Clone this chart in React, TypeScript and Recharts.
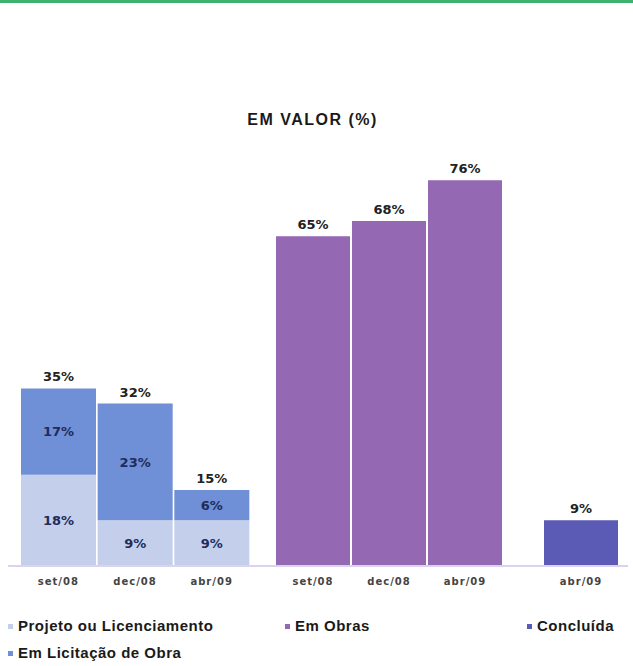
import { Bar, BarChart, LabelList, XAxis, YAxis } from "recharts";

const periods = ["set/08", "dec/08", "abr/09"];
const projeto = [18, 9, 9];
const licitacao = [17, 23, 6];
const emObras = [65, 68, 76];
const concluidaPeriods = ["abr/09"];
const concluida = [9];

const colors = {
  projeto: "#c4cfec",
  licitacao: "#6f8fd6",
  emObras: "#9568b4",
  concluida: "#5b5ab5",
};

const fase1 = periods.map((p, i) => ({
  periodo: p,
  projeto: projeto[i],
  licitacao: licitacao[i],
  total: projeto[i] + licitacao[i],
}));
const fase2 = periods.map((p, i) => ({ periodo: p, emObras: emObras[i] }));
const fase3 = concluidaPeriods.map((p, i) => ({ periodo: p, concluida: concluida[i] }));

const pct = (v: any) => `${v}%`;
const domain: [number, number] = [0, 80];
const chartHeight = 456;
const margin = { top: 20, right: 0, left: 0, bottom: 0 };
const tick = {
  fill: "#444",
  fontSize: 10,
  fontWeight: 700,
  fontFamily: "DejaVu Sans",
  letterSpacing: 1,
};
const axisLine = { stroke: "#d9d3ee", strokeWidth: 2 };
const topLabel = { fill: "#222", fontSize: 13, fontWeight: 700, fontFamily: "DejaVu Sans" };
const innerLabel = { fill: "#1f2c5c", fontSize: 13, fontWeight: 700, fontFamily: "DejaVu Sans" };

function LegendItem({ color, label }: { color: string; label: string }) {
  return (
    <div style={{ display: "flex", alignItems: "center", gap: 5 }}>
      <span style={{ width: 5, height: 5, background: color, display: "inline-block" }} />
      <span>{label}</span>
    </div>
  );
}

export default function App() {
  return (
    <div
      style={{
        position: "absolute",
        left: 0,
        top: 0,
        width: 633,
        height: 666,
        background: "#fff",
        overflow: "hidden",
      }}
    >
      <div style={{ position: "absolute", left: 0, top: 0, width: 633, height: 3, background: "#3fb16f" }} />
      <div
        style={{
          position: "absolute",
          left: 0,
          top: 111,
          width: 625,
          textAlign: "center",
          fontFamily: "Liberation Sans",
          fontWeight: 700,
          fontSize: 16,
          letterSpacing: 1.5,
          color: "#1a1a1a",
        }}
      >
        EM VALOR (%)
      </div>

      <div style={{ position: "absolute", left: 8, top: 140, display: "flex" }}>
        <BarChart width={254} height={chartHeight} data={fase1} margin={margin} barCategoryGap={1}>
          <XAxis
            dataKey="periodo"
            padding={{ left: 12, right: 12 }}
            tick={tick}
            tickLine={false}
            tickSize={0}
            tickMargin={12}
            axisLine={axisLine}
            height={30}
          />
          <YAxis hide domain={domain} />
          <Bar dataKey="projeto" stackId="a" fill={colors.projeto} isAnimationActive={false}>
            <LabelList dataKey="projeto" position="center" formatter={pct} style={innerLabel} />
          </Bar>
          <Bar dataKey="licitacao" stackId="a" fill={colors.licitacao} isAnimationActive={false}>
            <LabelList dataKey="licitacao" position="center" formatter={pct} style={innerLabel} />
            <LabelList dataKey="total" position="top" offset={7} formatter={pct} style={topLabel} />
          </Bar>
        </BarChart>

        <BarChart width={261} height={chartHeight} data={fase2} margin={margin} barCategoryGap={1}>
          <XAxis
            dataKey="periodo"
            padding={{ left: 13, right: 20 }}
            tick={tick}
            tickLine={false}
            tickSize={0}
            tickMargin={12}
            axisLine={axisLine}
            height={30}
          />
          <YAxis hide domain={domain} />
          <Bar dataKey="emObras" fill={colors.emObras} isAnimationActive={false}>
            <LabelList dataKey="emObras" position="top" offset={7} formatter={pct} style={topLabel} />
          </Bar>
        </BarChart>

        <BarChart width={105} height={chartHeight} data={fase3} margin={margin} barCategoryGap={1}>
          <XAxis
            dataKey="periodo"
            padding={{ left: 20, right: 9 }}
            tick={tick}
            tickLine={false}
            tickSize={0}
            tickMargin={12}
            axisLine={axisLine}
            height={30}
          />
          <YAxis hide domain={domain} />
          <Bar dataKey="concluida" fill={colors.concluida} isAnimationActive={false}>
            <LabelList dataKey="concluida" position="top" offset={7} formatter={pct} style={topLabel} />
          </Bar>
        </BarChart>
      </div>

      <div
        style={{
          position: "absolute",
          left: 8,
          top: 617,
          width: 640,
          display: "grid",
          gridTemplateColumns: "277px 242px 121px",
          rowGap: 9,
          fontFamily: "Liberation Sans",
          fontWeight: 700,
          fontSize: 15,
          letterSpacing: 0.5,
          color: "#1a1a1a",
          lineHeight: "18px",
        }}
      >
        <LegendItem color={colors.projeto} label="Projeto ou Licenciamento" />
        <LegendItem color={colors.emObras} label="Em Obras" />
        <LegendItem color={colors.concluida} label="Concluída" />
        <LegendItem color={colors.licitacao} label="Em Licitação de Obra" />
      </div>
    </div>
  );
}
